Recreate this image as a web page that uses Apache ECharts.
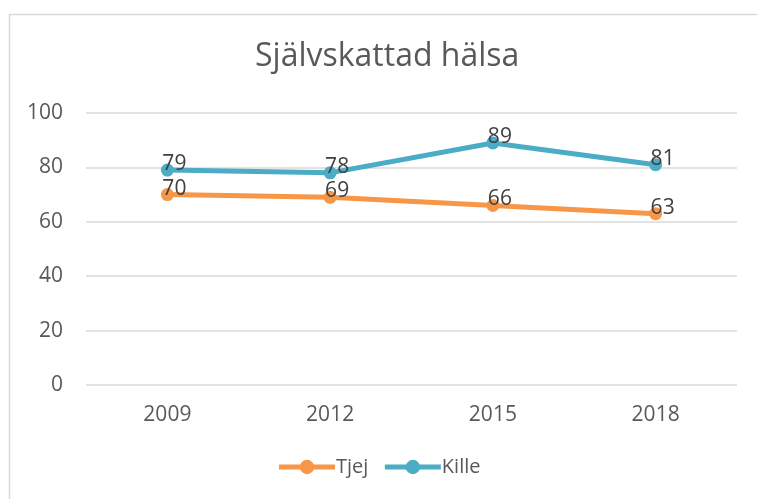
<!DOCTYPE html>
<html>
<head>
<meta charset="utf-8">
<script src="https://cdn.jsdelivr.net/npm/echarts@6/dist/echarts.min.js"></script>
<style>
  html, body { margin: 0; padding: 0; background: #fff; }
</style>
</head>
<body>
<div id="main" style="width: 757px; height: 499px"></div>
<script>
const years = ["2009", "2012", "2015", "2018"];
const tjej = [70, 69, 66, 63];
const kille = [79, 78, 89, 81];

const chart = echarts.init(document.getElementById("main"));
const font = "'Open Sans', 'Noto Sans', sans-serif";

function lineSeries(name, data, color) {
  return {
    name: name,
    type: "line",
    data: data,
    symbol: "circle",
    symbolSize: 13,
    lineStyle: { width: 5, color: color },
    itemStyle: { color: color },
    label: {
      show: true,
      position: "top",
      distance: 0,
      offset: [7, 11],
      fontSize: 21,
      fontFamily: font,
      color: "#404040",
    },
  };
}

chart.setOption({
  animation: false,
  graphic: [
    {
      type: "rect",
      shape: { x: 9.5, y: 14.5, width: 800, height: 520 },
      style: { fill: null, stroke: "#d9d9d9", lineWidth: 1.5 },
      silent: true,
    },
  ],
  title: {
    text: "Självskattad hälsa",
    left: 250,
    top: 36,
    textStyle: {
      fontSize: 32,
      fontWeight: "normal",
      fontFamily: font,
      color: "#595959",
    },
  },
  legend: {
    data: ["Tjej", "Kille"],
    bottom: 17,
    left: "center",
    itemWidth: 56,
    itemHeight: 18,
    itemGap: 14,
    lineStyle: { width: 5 },
    textStyle: { fontSize: 20, fontFamily: font, color: "#595959", padding: [0, 0, 0, -4] },
  },
  grid: { left: 86, right: 20, top: 113, bottom: 114 },
  xAxis: {
    type: "category",
    data: years,
    axisLine: { show: false },
    axisTick: { show: false },
    axisLabel: { fontSize: 21, fontFamily: font, color: "#595959", margin: 20 },
  },
  yAxis: {
    type: "value",
    min: 0,
    max: 100,
    interval: 20,
    axisLine: { show: false },
    axisTick: { show: false },
    splitLine: { lineStyle: { color: "#d9d9d9", width: 1.5 } },
    axisLabel: { fontSize: 21, fontFamily: font, color: "#595959", margin: 23 },
  },
  series: [
    lineSeries("Tjej", tjej, "#F79646"),
    lineSeries("Kille", kille, "#4BACC6"),
  ],
});
</script>
</body>
</html>
